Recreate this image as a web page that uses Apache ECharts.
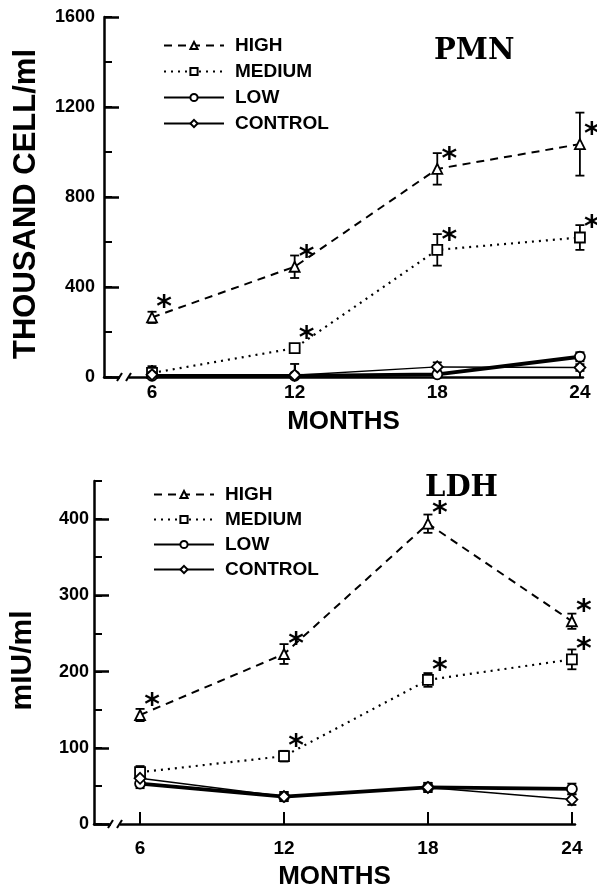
<!DOCTYPE html>
<html>
<head>
<meta charset="utf-8">
<script src="https://cdn.jsdelivr.net/npm/echarts@6/dist/echarts.min.js"></script>
<style>
html,body{margin:0;padding:0;background:#fff;}
#chart{width:597px;height:888px;}
</style>
</head>
<body>
<div id="chart"></div>
<script>
// ---- data ----
var months = [6, 12, 18, 24];
var seriesNames = ['HIGH', 'MEDIUM', 'LOW', 'CONTROL'];

var pmnHigh = [265, 490, 925, 1035];
var pmnHighErr = [25, 50, 70, 140];
var pmnMedium = [18, 128, 565, 620];
var pmnMediumErr = [30, 15, 70, 55];
var pmnLow = [5, 5, 12, 90];
var pmnLowErr = [15, 10, 10, 20];
var pmnControl = [10, 8, 45, 42];
var pmnControlErr = [25, 50, 20, 15];
var pmnHighSig = [1, 1, 1, 1];
var pmnMediumSig = [0, 1, 1, 1];

var ldhHigh = [143, 223, 394, 266];
var ldhHighErr = [8, 13, 12, 10];
var ldhMedium = [68, 89, 189, 216];
var ldhMediumErr = [8, 7, 9, 13];
var ldhLow = [53, 36, 48, 46];
var ldhLowErr = [6, 6, 6, 7];
var ldhControl = [60, 36, 48, 32];
var ldhControlErr = [8, 6, 6, 7];
var ldhHighSig = [1, 1, 1, 1];
var ldhMediumSig = [0, 1, 1, 1];

var pmnYTicks = [0, 400, 800, 1200, 1600];
var ldhYTicks = [0, 100, 200, 300, 400];

// ---- helpers ----
var FONT = 'Liberation Sans';
function pairs(vals) { return vals.map(function (v, i) { return [months[i], v]; }); }
function errData(vals, errs) {
  return vals.map(function (v, i) { return [months[i], Math.max(0, v - errs[i]), v + errs[i]]; });
}
function sigData(vals, sig) {
  var out = [];
  vals.forEach(function (v, i) { if (sig[i]) out.push([months[i], v]); });
  return out;
}
var styles = {
  HIGH: { symbol: 'triangle', line: { type: [8, 6], width: 2 } },
  MEDIUM: { symbol: 'rect', line: { type: [2, 5], width: 2.2 } },
  LOW: { symbol: 'circle', line: { type: 'solid', width: 3.8 } },
  CONTROL: { symbol: 'diamond', line: { type: 'solid', width: 1.5 } }
};
function lineSeries(name, vals, g) {
  var s = styles[name];
  return {
    type: 'line', name: name, xAxisIndex: g, yAxisIndex: g * 2,
    data: pairs(vals), symbol: s.symbol, symbolSize: name === 'HIGH' ? 10 : (name === 'CONTROL' ? 11 : 10),
    showAllSymbol: true, z: 3,
    lineStyle: { color: '#000', width: s.line.width, type: s.line.type, cap: 'butt' },
    itemStyle: { color: '#fff', borderColor: '#000', borderWidth: 1.8 },
    emphasis: { disabled: true }, animation: false
  };
}
function errSeries(vals, errs, g) {
  return {
    type: 'custom', xAxisIndex: g, yAxisIndex: g * 2, data: errData(vals, errs), z: 2,
    animation: false, silent: true,
    renderItem: function (params, api) {
      var x = api.value(0), lo = api.value(1), hi = api.value(2);
      var a = api.coord([x, hi]), b = api.coord([x, lo]);
      var w = 4.5, st = { stroke: '#000', lineWidth: 1.8 };
      return { type: 'group', children: [
        { type: 'line', shape: { x1: a[0], y1: a[1], x2: b[0], y2: b[1] }, style: st },
        { type: 'line', shape: { x1: a[0] - w, y1: a[1], x2: a[0] + w, y2: a[1] }, style: st },
        { type: 'line', shape: { x1: b[0] - w, y1: b[1], x2: b[0] + w, y2: b[1] }, style: st }
      ] };
    }
  };
}
function starSeries(vals, sig, g) {
  return {
    type: 'custom', xAxisIndex: g, yAxisIndex: g * 2, data: sigData(vals, sig), z: 4,
    animation: false, silent: true,
    renderItem: function (params, api) {
      var p = api.coord([api.value(0), api.value(1)]);
      return { type: 'text', x: p[0] + 12, y: p[1] - 9,
        style: { text: '*', fill: '#000', font: 'bold 30px "DejaVu Sans"', align: 'center', verticalAlign: 'middle' } };
    }
  };
}
function xAxis(g, min, max, nameGap, labelMargin) {
  return {
    type: 'value', gridIndex: g, min: min, max: max,
    name: 'MONTHS', nameLocation: 'middle', nameGap: nameGap,
    nameTextStyle: { color: '#000', fontFamily: FONT, fontWeight: 'bold', fontSize: 26 },
    axisLine: { show: true, onZero: false, lineStyle: { color: '#000', width: 2.5 } },
    axisTick: { show: true, inside: true, length: 12, customValues: months, lineStyle: { color: '#000', width: 2 } },
    axisLabel: { show: true, customValues: months, margin: labelMargin, color: '#000', fontFamily: FONT, fontWeight: 'bold', fontSize: 19 },
    splitLine: { show: false }
  };
}
function yAxisMinor(g, max, step, labelStep, name, nameGap, nameSize, labelMargin, namePad) {
  return {
    type: 'value', gridIndex: g, position: 'left', min: 0, max: max, interval: step,
    name: name, nameLocation: 'middle', nameGap: nameGap, nameRotate: 90,
    nameTextStyle: { color: '#000', fontFamily: FONT, fontWeight: 'bold', fontSize: nameSize, padding: namePad },
    axisLine: { show: true, onZero: false, lineStyle: { color: '#000', width: 2.5 } },
    axisTick: { show: true, inside: true, length: 8, lineStyle: { color: '#000', width: 2 } },
    axisLabel: { show: true, margin: labelMargin, color: '#000', fontFamily: FONT, fontWeight: 'bold', fontSize: 18,
      formatter: function (v) { return (v % labelStep === 0) ? String(v) : ''; } },
    splitLine: { show: false }
  };
}
function yAxisMajor(g, max, ticks) {
  return {
    type: 'value', gridIndex: g, position: 'left', min: 0, max: max,
    axisLine: { show: false, onZero: false },
    axisTick: { show: true, inside: true, length: 15, customValues: ticks, lineStyle: { color: '#000', width: 2.5 } },
    axisLabel: { show: false }, splitLine: { show: false }
  };
}

var series = [];
[[pmnHigh, pmnHighErr], [pmnMedium, pmnMediumErr], [pmnLow, pmnLowErr], [pmnControl, pmnControlErr]].forEach(function (d, i) {
  series.push(errSeries(d[0], d[1], 0));
  series.push(lineSeries(seriesNames[i], d[0], 0));
});
series.push(starSeries(pmnHigh, pmnHighSig, 0));
series.push(starSeries(pmnMedium, pmnMediumSig, 0));
[[ldhHigh, ldhHighErr], [ldhMedium, ldhMediumErr], [ldhLow, ldhLowErr], [ldhControl, ldhControlErr]].forEach(function (d, i) {
  series.push(errSeries(d[0], d[1], 1));
  series.push(lineSeries(seriesNames[i], d[0], 1));
});
series.push(starSeries(ldhHigh, ldhHighSig, 1));
series.push(starSeries(ldhMedium, ldhMediumSig, 1));

function legend(left, top, gap) {
  return {
    data: seriesNames, orient: 'vertical', left: left, top: top, itemWidth: 60, itemHeight: 9, itemGap: gap,
    selectedMode: false, padding: 0,
    textStyle: { color: '#000', fontFamily: FONT, fontWeight: 'bold', fontSize: 19, padding: [0, 0, 0, 6] }
  };
}

function breakMark(x, y) {
  return [
    { type: 'rect', shape: { x: x, y: y - 4, width: 9, height: 8 }, style: { fill: '#fff' }, z: 100 },
    { type: 'line', shape: { x1: x - 3, y1: y + 4, x2: x + 2, y2: y - 4 }, style: { stroke: '#000', lineWidth: 2 }, z: 101 },
    { type: 'line', shape: { x1: x + 6, y1: y + 4, x2: x + 11, y2: y - 4 }, style: { stroke: '#000', lineWidth: 2 }, z: 101 }
  ];
}

var option = {
  backgroundColor: '#fff',
  animation: false,
  grid: [
    { left: 104, right: 14, top: 17, bottom: 511, containLabel: false, outerBoundsMode: 'none' },
    { left: 94, right: 22, top: 481, bottom: 64, containLabel: false, outerBoundsMode: 'none' }
  ],
  xAxis: [xAxis(0, 3.98, 24.13, 32, 6), xAxis(1, 4.08, 24.13, 40, 15)],
  yAxis: [
    yAxisMinor(0, 1600, 200, 400, 'THOUSAND CELL/ml', 62, 31, 9, [0, 14, 0, 0]),
    yAxisMajor(0, 1600, pmnYTicks),
    yAxisMinor(1, 450, 50, 100, 'mIU/ml', 56, 30, 5, [0, 16, 0, 0]),
    yAxisMajor(1, 450, ldhYTicks)
  ],
  legend: [legend(163, 36, 7), legend(153, 485, 6)],
  title: [
    { text: 'PMN', left: 434, top: 37, padding: 0, textStyle: { fontFamily: 'DejaVu Serif', fontWeight: 'bold', fontSize: 29, color: '#000' } },
    { text: 'LDH', left: 425, top: 474, padding: 0, textStyle: { fontFamily: 'DejaVu Serif', fontWeight: 'bold', fontSize: 29, color: '#000' } }
  ],
  graphic: breakMark(120, 377).concat(breakMark(111, 824)),
  series: series
};

var chart = echarts.init(document.getElementById('chart'), null, { renderer: 'canvas' });
chart.setOption(option);
</script>
</body>
</html>
